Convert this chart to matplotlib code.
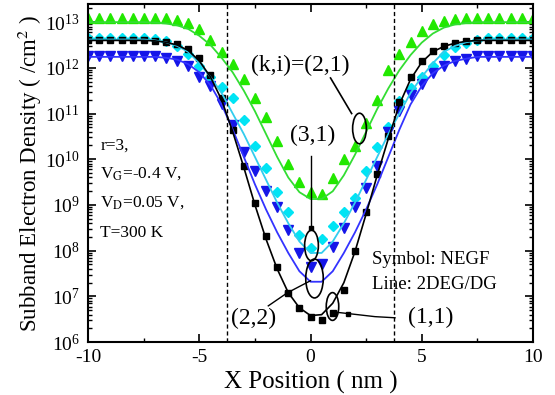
import numpy as np
import matplotlib
matplotlib.use('Agg')
import matplotlib.pyplot as plt
from matplotlib.path import Path
from matplotlib.transforms import Affine2D
from matplotlib.ticker import LogLocator, MultipleLocator, NullFormatter, LogFormatterSciNotation

plt.rcParams['font.family'] = 'Liberation Serif'
plt.rcParams['mathtext.fontset'] = 'stix'
plt.rcParams['axes.unicode_minus'] = False

# Position grid (nm)
x = np.arange(-10, 10.01, 0.5)

# log10 of subband electron density (/cm^2)
# symbols: NEGF
neg_11 = [12.6, 12.6, 12.6, 12.6, 12.6, 12.6, 12.59, 12.57, 12.52, 12.42, 12.22,
          11.85, 11.35, 10.65, 9.85, 9.05, 8.32, 7.65, 7.08, 6.75, 6.55,
          6.48, 6.63, 7.15, 8.0, 8.85, 9.68, 10.5, 11.25, 11.8, 12.15,
          12.36, 12.47, 12.54, 12.58, 12.6, 12.6, 12.6, 12.6, 12.6, 12.6]
neg_21 = [13.1, 13.1, 13.1, 13.1, 13.1, 13.1, 13.1, 13.08, 13.05, 12.98, 12.85,
          12.62, 12.35, 12.08, 11.75, 11.35, 10.92, 10.4, 9.9, 9.5, 9.28,
          9.25, 9.6, 10.0, 10.3, 10.8, 11.3, 11.95, 12.3, 12.57, 12.8,
          12.95, 13.03, 13.07, 13.1, 13.1, 13.1, 13.1, 13.1, 13.1, 13.1]
neg_31 = [12.65, 12.65, 12.65, 12.65, 12.65, 12.65, 12.63, 12.58, 12.48, 12.3, 12.05,
          11.8, 11.58, 11.35, 10.85, 10.3, 9.8, 9.28, 8.84, 8.35, 8.06,
          8.25, 8.55, 8.85, 9.15, 9.75, 10.27, 10.7, 11.28, 11.55, 11.8,
          12.05, 12.28, 12.45, 12.55, 12.6, 12.65, 12.65, 12.65, 12.65, 12.65]
neg_22 = [12.25, 12.25, 12.25, 12.25, 12.25, 12.25, 12.25, 12.22, 12.15, 12.05, 11.8,
          11.6, 11.2, 10.75, 10.15, 9.75, 9.3, 8.95, 8.45, 7.95, 7.65,
          7.7, 8.08, 8.5, 8.95, 9.38, 9.85, 10.6, 11.05, 11.4, 11.65,
          11.88, 12.05, 12.15, 12.2, 12.25, 12.25, 12.25, 12.25, 12.25, 12.25]
# lines: 2DEG/DG
deg_11 = [12.6, 12.6, 12.6, 12.6, 12.6, 12.6, 12.59, 12.56, 12.5, 12.38, 12.15,
          11.8, 11.3, 10.6, 9.82, 9.0, 8.25, 7.6, 7.08, 6.75, 6.58,
          6.6, 6.85, 7.3, 7.98, 8.8, 9.65, 10.45, 11.2, 11.75, 12.12,
          12.35, 12.47, 12.54, 12.58, 12.6, 12.6, 12.6, 12.6, 12.6, 12.6]
deg_21 = [13.0, 13.0, 13.0, 13.0, 13.0, 13.0, 12.99, 12.97, 12.93, 12.85, 12.7,
          12.5, 12.22, 11.9, 11.5, 11.05, 10.55, 10.05, 9.6, 9.28, 9.13,
          9.13, 9.3, 9.65, 10.1, 10.6, 11.1, 11.55, 11.95, 12.28, 12.55,
          12.75, 12.88, 12.95, 12.98, 13.0, 13.0, 13.0, 13.0, 13.0, 13.0]
deg_31 = [12.62, 12.62, 12.62, 12.62, 12.62, 12.62, 12.6, 12.56, 12.48, 12.35, 12.1,
          11.8, 11.45, 11.0, 10.55, 10.05, 9.55, 9.05, 8.6, 8.2, 7.95,
          7.95, 8.2, 8.6, 9.05, 9.55, 10.05, 10.55, 11.0, 11.45, 11.8,
          12.1, 12.35, 12.48, 12.56, 12.6, 12.62, 12.62, 12.62, 12.62, 12.62]
deg_22 = [12.24, 12.24, 12.24, 12.24, 12.24, 12.24, 12.24, 12.22, 12.18, 12.08, 11.9,
          11.62, 11.2, 10.65, 10.05, 9.45, 8.9, 8.4, 7.95, 7.55, 7.32,
          7.32, 7.55, 7.95, 8.4, 8.9, 9.45, 10.05, 10.65, 11.2, 11.6,
          11.88, 12.05, 12.15, 12.2, 12.24, 12.24, 12.24, 12.24, 12.24, 12.24]

# channel edges (nm)
edges = [-3.75, 3.75]
ydecades = [1e6, 1e7, 1e8, 1e9, 1e10, 1e11, 1e12, 1e13]

fig = plt.figure(figsize=(5.55, 3.95), dpi=100)
ax = fig.add_axes([0.159, 0.134, 0.801, 0.856])

ax.plot(x, 10**np.array(neg_21), ls='none', marker='^', ms=7, color='#22e800')
ax.plot(x, 10**np.array(neg_31), ls='none', marker='D', ms=5.5, color='#00e4f4')
ax.plot(x, 10**np.array(neg_22), ls='none', marker='v', ms=7, color='#1515e8')
ax.plot(x, 10**np.array(neg_11), ls='none', marker='s', ms=5, color='black')

ax.plot(x, 10**np.array(deg_21), color='#33dd33', lw=1.3)
ax.plot(x, 10**np.array(deg_31), color='#33ccee', lw=1.3)
ax.plot(x, 10**np.array(deg_22), color='#3333ff', lw=1.3)
ax.plot(x, 10**np.array(deg_11), color='black', lw=1.2)

for e in edges:
    ax.axvline(e, color='black', ls=(0, (3, 2)), lw=1)

ax.set_yscale('log')
ax.set_xlim(-10, 10)
ax.set_ylim(1e6, 2.5e13)
ax.xaxis.set_major_locator(MultipleLocator(5))
ax.xaxis.set_minor_locator(MultipleLocator(2.5))
ax.set_yticks(ydecades)
ax.yaxis.set_major_formatter(LogFormatterSciNotation())
ax.yaxis.set_minor_locator(LogLocator(base=10, subs=np.arange(2, 10), numticks=20))
ax.yaxis.set_minor_formatter(NullFormatter())
ax.tick_params(which='both', direction='in', top=True, right=True, labelsize=14)
ax.tick_params(axis='x', pad=5)
ax.tick_params(axis='y', pad=6)
ax.tick_params(which='major', length=6, width=1.2)
ax.tick_params(which='minor', length=3, width=1)
for s in ax.spines.values():
    s.set_linewidth(1.5)

ax.set_xlabel('X Position ( nm )', fontsize=18, va='center')
ax.xaxis.set_label_coords(0.5, -0.118)
ax.set_ylabel('Subband Electron Density ( /cm$^2$ )', fontsize=16.5, labelpad=1)

# annotations
ell = Path.unit_circle().transformed(Affine2D().scale(0.45, 1.0))
ax.text(-0.45, 1.15e12, '(k,i)=(2,1)', fontsize=17, ha='center', va='center')
ax.plot([0.9, 1.85], [6e11, 1e11], color='black', lw=1.2)
ax.plot([2.16], [4.8e10], ls='none', marker=ell, ms=22, mfc='none', mec='black', mew=1.2)

ax.text(0.1, 3.4e10, '(3,1)', fontsize=17, ha='center', va='center')
ax.plot([0.0, 0.0], [1.2e10, 3.1e8], color='black', lw=1)
ax.plot([0.0], [3.1e8], ls='none', marker='s', ms=3, color='black')
ax.plot([0.0], [1.3e8], ls='none', marker=ell, ms=22, mfc='none', mec='black', mew=1.2)

ax.text(-2.57, 3.3e6, '(2,2)', fontsize=17, ha='center', va='center')
ax.plot([-1.9, -1.04, 0.0], [6.2e6, 1.2e7, 2.2e7], color='black', lw=1)
ax.plot([-1.04], [1.2e7], ls='none', marker='s', ms=3, color='black')
ax.plot([0.15], [2.5e7], ls='none', marker=ell, ms=28, mfc='none', mec='black', mew=1.2)

ax.text(5.4, 3.4e6, '(1,1)', fontsize=17, ha='center', va='center')
ax.plot([3.8, 2.9, 1.7, 1.15], [3.4e6, 3.6e6, 4.2e6, 4.5e6], color='black', lw=1)
ax.plot([1.7], [4.2e6], ls='none', marker='s', ms=3, color='black')
ax.plot([0.95], [6.3e6], ls='none', marker=ell, ms=20, mfc='none', mec='black', mew=1.2)

ax.text(-9.45, 2.0e10, 'r=3,', fontsize=12.5, ha='left', va='center')
ax.text(-9.45, 4.8e9, 'V$_{\\rm G}$=-0.4 V,', fontsize=12.5, ha='left', va='center')
ax.text(-9.45, 1.1e9, 'V$_{\\rm D}$=0.05 V,', fontsize=12.5, ha='left', va='center')
ax.text(-9.45, 2.4e8, 'T=300 K', fontsize=12.5, ha='left', va='center')

ax.text(2.75, 6.3e7, 'Symbol: NEGF', fontsize=13.5, ha='left', va='center')
ax.text(2.75, 1.8e7, 'Line: 2DEG/DG', fontsize=13.5, ha='left', va='center')

fig.savefig('out.png', dpi=100)
